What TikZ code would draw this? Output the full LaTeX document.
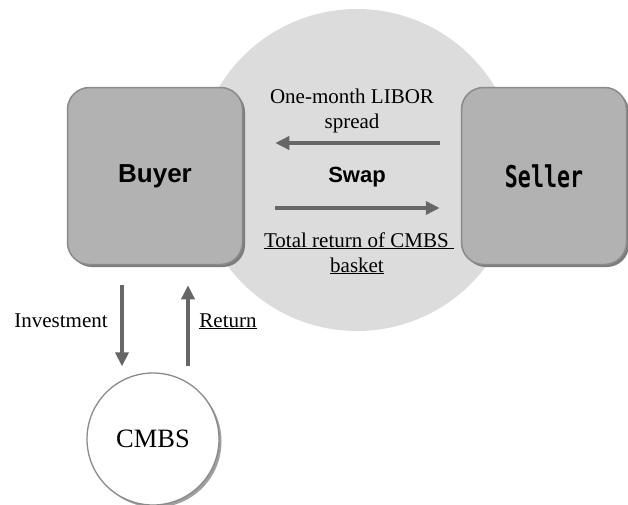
\documentclass[tikz,border=0pt]{standalone}
\usepackage{fontspec}
\setmainfont{Liberation Serif}
\newfontfamily\sansf{Liberation Sans}
\newfontfamily\monof{DejaVu Sans Mono}
\usetikzlibrary{arrows.meta}
\definecolor{bigc}{HTML}{DCDCDC}
\definecolor{boxfill}{HTML}{B2B2B2}
\definecolor{boxline}{HTML}{8A8A8A}
\definecolor{shadowc}{HTML}{7C7C7C}
\definecolor{arrowc}{HTML}{666666}
\definecolor{txt}{HTML}{000000}
\begin{document}
\begin{tikzpicture}[x=1pt,y=-1pt,
  box/.style={draw=boxline, fill=boxfill, line width=1.5pt, rounded corners=22pt, inner sep=0pt,
    preaction={fill=shadowc, transform canvas={shift={(2.5pt,-2.5pt)}}}},
  arr/.style={draw=arrowc, line width=4.3pt, -{Triangle[length=14pt,width=13pt]}},
  lab/.style={text=txt, inner sep=0pt, anchor=base, font=\fontsize{21}{25}\selectfont},
]
\useasboundingbox (0,0) rectangle (628,504);
% big swap circle
\node[circle, fill=bigc, minimum size=322pt, inner sep=0pt] (swapcirc) at (357,170) {};
% boxes
\node[box, minimum width=175pt, minimum height=177pt, text=txt,
      font=\sansf\bfseries\fontsize{26}{30}\selectfont] (buyer) at (155,176) {Buyer};
\node[box, minimum width=165pt, minimum height=177pt, text=txt] (seller) at (544,176)
      {\scalebox{0.72}[1]{\monof\bfseries\fontsize{30}{34}\selectfont Seller}};
% CMBS circle
\node[circle, draw=boxline, line width=1.3pt, fill=white, minimum size=132pt, inner sep=0pt,
      preaction={fill=gray!75, transform canvas={shift={(2.5pt,-2.5pt)}}},
      text=txt, font=\fontsize{26.5}{30}\selectfont] (cmbs) at (153,439) {CMBS};
% swap arrows
\draw[arr] ([shift={(-21,-33)}]seller.west) -- ([shift={(32,-33)}]buyer.east);
\draw[arr] ([shift={(32,32)}]buyer.east) -- ([shift={(-21,32)}]seller.west);
% texts in swap
\node[lab] (libor1) at (352,103) {One-month LIBOR};
\node[lab] (libor2) at (352,128) {spread};
\node[lab, font=\sansf\bfseries\fontsize{22}{26}\selectfont] (swap) at (357,182) {Swap};
\node[lab] (total1) at (359,247) {\underline{Total return of CMBS\ }};
\node[lab] (total2) at (357,272) {\underline{basket}};
% investment / return arrows
\draw[arr] ([shift={(-33,20)}]buyer.south) -- ([shift={(-31,-6)}]cmbs.north);
\draw[arr] ([shift={(35,-6)}]cmbs.north) -- ([shift={(33,20)}]buyer.south);
\node[lab] (invest) at (61,327) {Investment};
\node[lab] (ret) at (228,327) {\underline{Return}};
\end{tikzpicture}
\end{document}
